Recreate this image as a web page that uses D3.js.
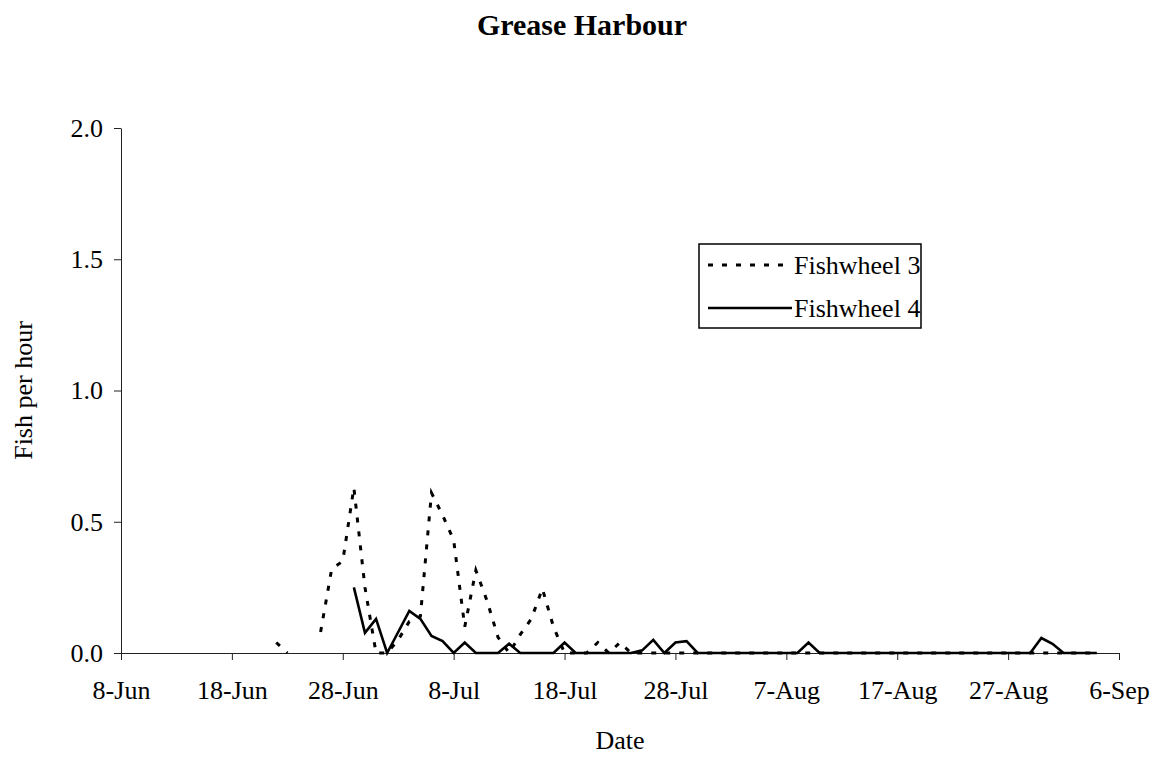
<!DOCTYPE html>
<html>
<head>
<meta charset="utf-8">
<script src="https://cdn.jsdelivr.net/npm/d3@7"></script>
<style>
  html, body { margin: 0; padding: 0; background: #fff; }
  svg { display: block; }
  text { font-family: "Liberation Serif", "Times New Roman", serif; fill: #000; }
</style>
</head>
<body>
<svg id="chart" width="1157" height="761"></svg>
<script>
// ---- Data ----
const chartTitle = "Grease Harbour";
const xTitle = "Date";
const yTitle = "Fish per hour";
const seriesNames = ["Fishwheel 3", "Fishwheel 4"];
const startDate = "1998-06-08";           // first day of the series (day index 0)
// daily fish-per-hour values, one per day starting at startDate; null = no data
const fishwheel3 = [
  null, null, null, null, null, null, null, null, null, null,   // 8-17 Jun
  null, null, null, null, 0.04, 0.00, null, null, 0.08, 0.32,   // 18-27 Jun
  0.35, 0.63, 0.25, 0.00, 0.00, 0.05, 0.12, 0.14, 0.61, 0.525,  // 28 Jun-7 Jul
  0.43, 0.10, 0.315, 0.20, 0.06, 0.00, 0.07, 0.13, 0.245, 0.10, // 8-17 Jul
  0.00, 0.00, 0.00, 0.04, 0.00, 0.04, 0.00, 0.00, 0.00, 0.00,   // 18-27 Jul
  0.00, 0.00, 0.00, 0.00, 0.00, 0.00, 0.00, 0.00, 0.00, 0.00,   // 28 Jul-6 Aug
  0.00, 0.00, 0.00, 0.00, 0.00, 0.00, 0.00, 0.00, 0.00, 0.00,   // 7-16 Aug
  0.00, 0.00, 0.00, 0.00, 0.00, 0.00, 0.00, 0.00, 0.00, 0.00,   // 17-26 Aug
  0.00, 0.00, 0.00, 0.00, 0.00, 0.00, 0.00, 0.00, 0.00          // 27 Aug-4 Sep
];
const fishwheel4 = [
  null, null, null, null, null, null, null, null, null, null,   // 8-17 Jun
  null, null, null, null, null, null, null, null, null, null,   // 18-27 Jun
  null, 0.25, 0.077, 0.13, 0.00, 0.08, 0.16, 0.13, 0.065, 0.045,// 28 Jun-7 Jul
  0.00, 0.04, 0.00, 0.00, 0.00, 0.035, 0.00, 0.00, 0.00, 0.00,  // 8-17 Jul
  0.04, 0.00, 0.00, 0.00, 0.00, 0.00, 0.00, 0.01, 0.05, 0.00,   // 18-27 Jul
  0.04, 0.045, 0.00, 0.00, 0.00, 0.00, 0.00, 0.00, 0.00, 0.00,  // 28 Jul-6 Aug
  0.00, 0.00, 0.04, 0.00, 0.00, 0.00, 0.00, 0.00, 0.00, 0.00,   // 7-16 Aug
  0.00, 0.00, 0.00, 0.00, 0.00, 0.00, 0.00, 0.00, 0.00, 0.00,   // 17-26 Aug
  0.00, 0.00, 0.00, 0.057, 0.035, 0.00, 0.00, 0.00, 0.00        // 27 Aug-4 Sep
];
const xTickLabels = ["8-Jun", "18-Jun", "28-Jun", "8-Jul", "18-Jul", "28-Jul", "7-Aug", "17-Aug", "27-Aug", "6-Sep"];
const xTickStepDays = 10;
const yTickValues = [0, 0.5, 1.0, 1.5, 2.0];
const yDomain = [0, 2];

// ---- Layout ----
const svg = d3.select("#chart");
const plot = { left: 121, right: 1119, top: 128, bottom: 653 };

const parse = d3.timeParse("%Y-%m-%d");
const d0 = parse(startDate);
const dayOf = i => d3.timeDay.offset(d0, i);
const xTickDates = xTickLabels.map((_, i) => dayOf(i * xTickStepDays));

const x = d3.scaleTime()
  .domain([xTickDates[0], xTickDates[xTickDates.length - 1]])
  .range([plot.left, plot.right]);
const y = d3.scaleLinear().domain(yDomain).range([plot.bottom, plot.top]);

// Title
svg.append("text")
  .attr("x", 582).attr("y", 35)
  .attr("text-anchor", "middle")
  .style("font-size", "30px").style("font-weight", "bold")
  .text(chartTitle);

// Axes
const xAxis = d3.axisBottom(x)
  .tickValues(xTickDates)
  .tickFormat((d, i) => xTickLabels[i])
  .tickSizeInner(7).tickSizeOuter(0).tickPadding(21);
const gx = svg.append("g").attr("transform", `translate(0,${plot.bottom})`).call(xAxis);
gx.selectAll("text").style("font-size", "26px").attr("fill", "#000");
gx.selectAll("line,path").attr("stroke", "#222").attr("stroke-width", 1);

const yAxis = d3.axisLeft(y)
  .tickValues(yTickValues)
  .tickFormat(d3.format(".1f"))
  .tickSizeInner(7).tickSizeOuter(0).tickPadding(11);
const gy = svg.append("g").attr("transform", `translate(${plot.left},0)`).call(yAxis);
gy.selectAll("text").style("font-size", "26px").attr("fill", "#000");
gy.selectAll("line,path").attr("stroke", "#222").attr("stroke-width", 1);

// Axis titles
svg.append("text")
  .attr("x", 620).attr("y", 749)
  .attr("text-anchor", "middle")
  .style("font-size", "26px")
  .text(xTitle);
svg.append("text")
  .attr("transform", `translate(32,${(plot.top + plot.bottom) / 2}) rotate(-90)`)
  .attr("text-anchor", "middle")
  .style("font-size", "26px")
  .text(yTitle);

// Lines
const line = d3.line()
  .defined(d => d.v !== null)
  .x(d => x(d.date))
  .y(d => y(d.v));

const toPts = arr => arr.map((v, i) => ({ date: dayOf(i), v }));

const styles = [
  { data: fishwheel3, dash: "5,9", width: 3 },
  { data: fishwheel4, dash: null, width: 2.6 }
];

styles.forEach(s => {
  svg.append("path")
    .datum(toPts(s.data))
    .attr("d", line)
    .attr("fill", "none")
    .attr("stroke", "#000")
    .attr("stroke-width", s.width)
    .attr("stroke-linejoin", "miter")
    .attr("stroke-dasharray", s.dash);
});

// Legend
const lg = svg.append("g");
lg.append("rect")
  .attr("x", 699).attr("y", 244).attr("width", 222).attr("height", 84)
  .attr("fill", "#fff").attr("stroke", "#000").attr("stroke-width", 1.5);
const legendRows = [
  { name: seriesNames[0], dash: "5,9", width: 3, y: 265 },
  { name: seriesNames[1], dash: null, width: 2.6, y: 308 }
];
legendRows.forEach(r => {
  lg.append("line")
    .attr("x1", 708).attr("x2", 792).attr("y1", r.y).attr("y2", r.y)
    .attr("stroke", "#000").attr("stroke-width", r.width)
    .attr("stroke-dasharray", r.dash);
  lg.append("text")
    .attr("x", 794).attr("y", r.y + 8.5)
    .style("font-size", "26px")
    .text(r.name);
});
</script>
</body>
</html>
